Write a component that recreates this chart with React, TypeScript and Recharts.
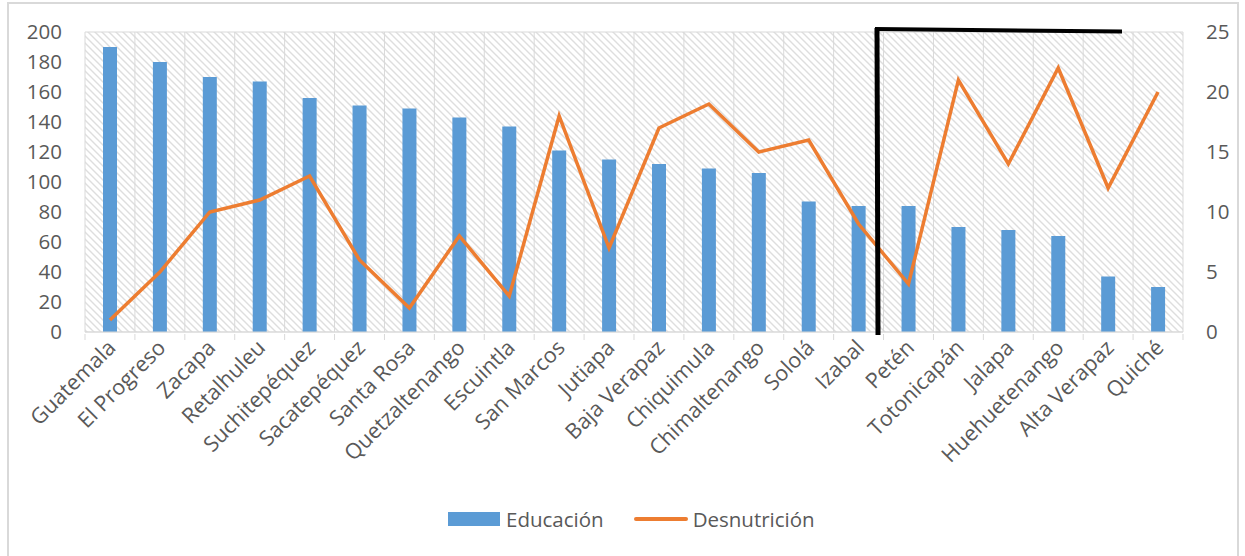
import React from "react";
import {
  ComposedChart,
  Bar,
  Line,
  XAxis,
  YAxis,
  CartesianGrid,
} from "recharts";

const departamentos = [
  "Guatemala", "El Progreso", "Zacapa", "Retalhuleu", "Suchitepéquez", "Sacatepéquez",
  "Santa Rosa", "Quetzaltenango", "Escuintla", "San Marcos", "Jutiapa", "Baja Verapaz",
  "Chiquimula", "Chimaltenango", "Sololá", "Izabal", "Petén", "Totonicapán",
  "Jalapa", "Huehuetenango", "Alta Verapaz", "Quiché",
];
const educacion = [190, 180, 170, 167, 156, 151, 149, 143, 137, 121, 115, 112, 109, 106, 87, 84, 84, 70, 68, 64, 37, 30];
const desnutricion = [1, 5, 10, 11, 13, 6, 2, 8, 3, 18, 7, 17, 19, 15, 16, 9, 4, 21, 14, 22, 12, 20];
const leftTicks = [0, 20, 40, 60, 80, 100, 120, 140, 160, 180, 200];
const rightTicks = [0, 5, 10, 15, 20, 25];

const data = departamentos.map((name, i) => ({
  name,
  educacion: educacion[i],
  desnutricion: desnutricion[i],
}));

const FONT = "'Open Sans', 'Noto Sans', sans-serif";
const GRAY = "#d9d9d9";
const TEXT = "#595959";
const BAND = 1098 / departamentos.length;

const CategoryTick = ({ x, y, payload, index }: any) => (
  <g transform={`translate(${x},${y})`}>
    <line x1={-BAND / 2} y1={0} x2={-BAND / 2} y2={6} stroke={GRAY} />
    {index === departamentos.length - 1 && (
      <line x1={BAND / 2} y1={0} x2={BAND / 2} y2={6} stroke={GRAY} />
    )}
    <text
      x={7}
      y={15}
      transform="rotate(-45 7 15)"
      textAnchor="end"
      fill={TEXT}
      fontSize={21.5}
      fontFamily={FONT}
    >
      {payload.value}
    </text>
  </g>
);

export default function App() {
  return (
    <div style={{ position: "relative", width: 1245, height: 556, overflow: "hidden" }}>
      <style>{`body{margin:0;overflow:hidden}`}</style>
      <svg width={0} height={0} style={{ position: "absolute" }}>
        <defs>
          <pattern id="hatch" width={7} height={7} patternUnits="userSpaceOnUse">
            <rect width={7} height={7} fill="#fff" />
            <path d="M-1,-1 L8,8 M-1,6 L1,8 M6,-1 L8,1" stroke="#dedede" strokeWidth={1.4} />
          </pattern>
        </defs>
      </svg>
      <div
        style={{
          position: "absolute",
          left: 7,
          top: 2,
          width: 1232,
          height: 600,
          border: `2px solid ${GRAY}`,
          boxSizing: "border-box",
        }}
      />
      <div style={{ position: "absolute", left: 0, top: 0 }}>
        <ComposedChart
          width={1245}
          height={556}
          data={data}
          margin={{ top: 32, right: 0, bottom: 104, left: 0 }}
        >
          <CartesianGrid
            stroke={GRAY}
            fill="url(#hatch)"
            fillOpacity={1}
            verticalCoordinatesGenerator={({ offset }: any) =>
              Array.from({ length: departamentos.length + 1 }, (_, i) => offset.left + (i * offset.width) / departamentos.length)
            }
          />
          <XAxis
            dataKey="name"
            interval={0}
            height={120}
            tickSize={0}
            tickLine={false}
            axisLine={{ stroke: GRAY }}
            tick={<CategoryTick />}
          />
          <YAxis
            yAxisId="left"
            width={85}
            domain={[0, 200]}
            ticks={leftTicks}
            tickSize={0}
            tickMargin={23}
            axisLine={false}
            tickLine={false}
            tick={{ fill: TEXT, fontSize: 20.5, fontFamily: FONT }}
          />
          <YAxis
            yAxisId="right"
            orientation="right"
            width={62}
            domain={[0, 25]}
            ticks={rightTicks}
            tickSize={0}
            tickMargin={23}
            axisLine={false}
            tickLine={false}
            tick={{ fill: TEXT, fontSize: 20.5, fontFamily: FONT, textAnchor: "start" }}
          />
          <Bar
            yAxisId="left"
            dataKey="educacion"
            name="Educación"
            fill="#5b9bd5"
            barSize={14}
            isAnimationActive={false}
          />
          <Line
            yAxisId="right"
            type="linear"
            dataKey="desnutricion"
            name="Desnutrición"
            stroke="#ed7d31"
            strokeWidth={3.5}
            dot={false}
            isAnimationActive={false}
          />
        </ComposedChart>
      </div>
      {/* hand-drawn annotation bracket */}
      <svg width={1245} height={556} style={{ position: "absolute", left: 0, top: 0, pointerEvents: "none" }}>
        <line x1={877} y1={28} x2={878} y2={335} stroke="#000" strokeWidth={5} />
        <line x1={875} y1={29} x2={1122} y2={31.5} stroke="#000" strokeWidth={4} />
      </svg>
      <div
        style={{
          position: "absolute",
          left: 448,
          top: 506,
          display: "flex",
          alignItems: "center",
          fontFamily: FONT,
          fontSize: 20.5,
          color: TEXT,
          height: 26,
        }}
      >
        <span style={{ width: 52, height: 14, background: "#5b9bd5", marginRight: 6 }} />
        <span>Educación</span>
        <span style={{ width: 54, height: 4, borderRadius: 2, background: "#ed7d31", marginLeft: 30, marginRight: 5 }} />
        <span>Desnutrición</span>
      </div>
    </div>
  );
}
